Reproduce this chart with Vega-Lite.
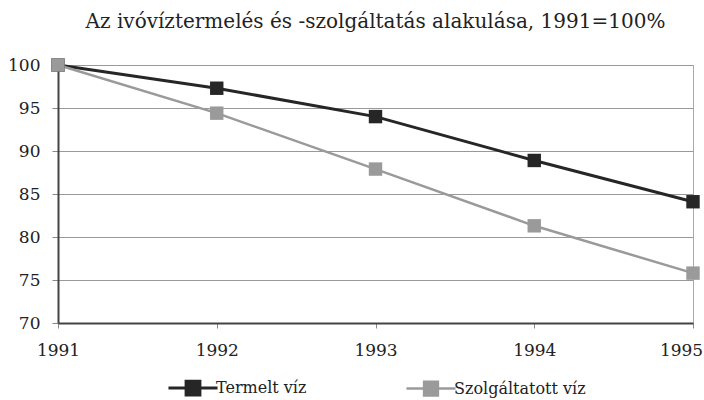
{
  "$schema": "https://vega.github.io/schema/vega-lite/v6.json",
  "width": 635,
  "height": 258,
  "autosize": "none",
  "padding": {"left": 58, "top": 65, "right": 11, "bottom": 77},
  "background": "white",
  "title": {
    "text": "Az ivóvíztermelés és -szolgáltatás alakulása, 1991=100%",
    "font": "DejaVu Serif",
    "fontSize": 20,
    "fontWeight": "normal",
    "color": "#222",
    "anchor": "middle",
    "offset": 24
  },
  "data": {
    "values": [
      {"ev": "1991", "sorozat": "Termelt víz", "ertek": 100},
      {"ev": "1992", "sorozat": "Termelt víz", "ertek": 97.3},
      {"ev": "1993", "sorozat": "Termelt víz", "ertek": 94.0},
      {"ev": "1994", "sorozat": "Termelt víz", "ertek": 88.9},
      {"ev": "1995", "sorozat": "Termelt víz", "ertek": 84.1},
      {"ev": "1991", "sorozat": "Szolgáltatott víz", "ertek": 100},
      {"ev": "1992", "sorozat": "Szolgáltatott víz", "ertek": 94.4},
      {"ev": "1993", "sorozat": "Szolgáltatott víz", "ertek": 87.9},
      {"ev": "1994", "sorozat": "Szolgáltatott víz", "ertek": 81.3},
      {"ev": "1995", "sorozat": "Szolgáltatott víz", "ertek": 75.8}
    ]
  },
  "config": {
    "view": {"stroke": "#aaa", "strokeWidth": 1},
    "font": "DejaVu Serif"
  },
  "mark": {"type": "line", "point": {"shape": "square", "size": 180, "filled": true, "opacity": 1}},
  "encoding": {
    "x": {
      "field": "ev", "type": "ordinal",
      "scale": {"type": "point", "padding": 0},
      "axis": {
        "title": null, "labelAngle": 0, "labelFont": "DejaVu Serif", "labelFontSize": 17,
        "labelColor": "#222", "domainColor": "#444", "domainWidth": 2,
        "tickColor": "#888", "tickSize": 5, "labelPadding": 14, "grid": false,
        "labelOffset": {"condition": {"test": "datum.value == '1995'", "value": -12}, "value": 0}
      }
    },
    "y": {
      "field": "ertek", "type": "quantitative",
      "scale": {"domain": [70, 100], "nice": false, "zero": false},
      "axis": {
        "title": null, "values": [70, 75, 80, 85, 90, 95, 100],
        "labelFont": "DejaVu Serif", "labelFontSize": 17, "labelColor": "#222",
        "domainColor": "#444", "domainWidth": 2, "tickColor": "#888", "tickSize": 6,
        "labelPadding": 12, "grid": true, "gridColor": "#999", "gridWidth": 1
      }
    },
    "color": {
      "field": "sorozat", "type": "nominal",
      "scale": {"domain": ["Termelt víz", "Szolgáltatott víz"], "range": ["#262626", "#9a9a9a"]},
      "legend": {
        "title": null, "orient": "none", "legendX": 118, "legendY": 306, "padding": 0,
        "direction": "horizontal", "columnPadding": 94,
        "labelFont": "DejaVu Serif", "labelFontSize": 16, "labelColor": "#222",
        "symbolType": "M-1.6,0H1.6M-0.45,-0.45H0.45V0.45H-0.45Z",
        "symbolSize": 940, "symbolStrokeWidth": 2, "labelOffset": 6,
        "encode": {"symbols": {"update": {"fill": {"signal": "scale('color', datum.value)"}}}}
      }
    },
    "strokeWidth": {
      "field": "sorozat", "type": "nominal",
      "scale": {"domain": ["Termelt víz", "Szolgáltatott víz"], "range": [3, 2.5]},
      "legend": null
    }
  }
}
